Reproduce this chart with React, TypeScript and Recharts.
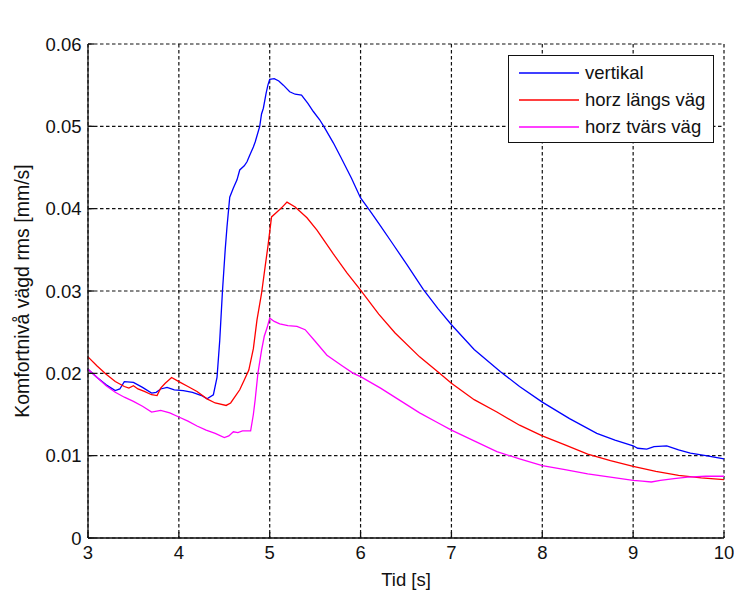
import React from "react";
import {
  LineChart,
  Line,
  XAxis,
  YAxis,
  CartesianGrid,
  Legend,
  Label,
} from "recharts";

const FONT = "'Liberation Sans', Arial, sans-serif";
const INK = "#111";

const xTicks = [3, 4, 5, 6, 7, 8, 9, 10];
const yTicks = [0, 0.01, 0.02, 0.03, 0.04, 0.05, 0.06];

// vertikal
const vertTid = [
  3.0, 3.1, 3.2, 3.3, 3.35, 3.4, 3.5, 3.6, 3.7, 3.75, 3.8, 3.87, 3.95, 4.05,
  4.15, 4.25, 4.31, 4.38, 4.42, 4.45, 4.48, 4.51, 4.53, 4.56, 4.6, 4.64, 4.67,
  4.72, 4.75, 4.78, 4.82, 4.84, 4.89, 4.91, 4.93, 4.96, 4.98, 5.0, 5.05, 5.1,
  5.15, 5.22, 5.28, 5.35, 5.42, 5.48, 5.55, 5.6, 5.7, 5.78, 5.9, 6.0, 6.1,
  6.2, 6.35, 6.51, 6.69, 6.85, 7.0, 7.25, 7.54, 7.75, 8.0, 8.3, 8.6, 8.8, 9.0,
  9.05, 9.15, 9.23, 9.37, 9.5, 9.63, 9.8, 10.0,
];
const vertVarde = [
  0.0205, 0.0195, 0.0186, 0.0179, 0.0181, 0.019, 0.0189, 0.0183, 0.0176,
  0.0177, 0.0181, 0.0183, 0.018, 0.0179, 0.0177, 0.0173, 0.0169, 0.0174,
  0.0195, 0.024, 0.03, 0.035, 0.0378, 0.0414, 0.0425, 0.0435, 0.0447, 0.0452,
  0.0457, 0.0465, 0.0475, 0.0481, 0.05, 0.0515, 0.0522, 0.054, 0.055, 0.0557,
  0.0558, 0.0555, 0.055, 0.0542, 0.0539, 0.0538, 0.0528, 0.0518, 0.0508,
  0.0499, 0.048, 0.0463, 0.0437, 0.0413, 0.0398, 0.0382, 0.0358, 0.0332,
  0.0302, 0.0279, 0.0259, 0.0229, 0.0202, 0.0184, 0.0165, 0.0145, 0.0127,
  0.0119, 0.0112, 0.0109, 0.0108, 0.0111, 0.0112, 0.0107, 0.0103, 0.01, 0.0096,
];

// horz längs väg
const langsTid = [
  3.0, 3.1, 3.2, 3.3, 3.4, 3.45, 3.5, 3.55, 3.62, 3.7, 3.76, 3.8, 3.85, 3.92,
  4.0, 4.1, 4.2, 4.31, 4.4, 4.52, 4.57, 4.62, 4.67, 4.72, 4.77, 4.82, 4.86,
  4.91, 4.95, 4.98, 5.02, 5.08, 5.13, 5.19, 5.28, 5.41, 5.52, 5.7, 5.85, 6.0,
  6.2, 6.38, 6.65, 6.87, 7.0, 7.25, 7.5, 7.75, 8.0, 8.25, 8.5, 8.75, 9.0, 9.25,
  9.5, 9.75, 10.0,
];
const langsVarde = [
  0.022, 0.0209, 0.0199, 0.019, 0.0184, 0.0182, 0.0185, 0.0181, 0.0178,
  0.0174, 0.0173, 0.0182, 0.0188, 0.0195, 0.019, 0.0184, 0.0178, 0.0169,
  0.0164, 0.0161, 0.0164, 0.0172, 0.018, 0.0192, 0.0204, 0.023, 0.0265,
  0.0297, 0.033, 0.0354, 0.039, 0.0396, 0.0401, 0.0408, 0.0402, 0.0389,
  0.0374, 0.0345, 0.0322, 0.0301, 0.0272, 0.0249, 0.022, 0.02, 0.0188, 0.0168,
  0.0153, 0.0137, 0.0124, 0.0113, 0.0102, 0.0094, 0.0087, 0.0081, 0.0076,
  0.0073, 0.0071,
];

// horz tvärs väg
const tvarsTid = [
  3.0, 3.1, 3.2, 3.3, 3.4, 3.5, 3.6, 3.7, 3.8, 3.9, 4.0, 4.1, 4.2, 4.3, 4.4,
  4.5, 4.55, 4.6, 4.65, 4.7, 4.79, 4.82, 4.84, 4.87, 4.91, 4.94, 4.97, 5.0,
  5.05, 5.11, 5.2, 5.3, 5.39, 5.5, 5.63, 5.8, 5.92, 6.0, 6.22, 6.45, 6.65,
  6.85, 7.0, 7.25, 7.5, 7.75, 8.0, 8.25, 8.5, 8.75, 9.0, 9.1, 9.2, 9.3, 9.45,
  9.6, 9.8, 10.0,
];
const tvarsVarde = [
  0.0205, 0.0195, 0.0185, 0.0177, 0.0171, 0.0166, 0.016, 0.0153, 0.0155,
  0.0152, 0.0147, 0.0142, 0.0136, 0.0131, 0.0127, 0.0122, 0.0124, 0.0129,
  0.0128, 0.013, 0.013, 0.015, 0.0168, 0.02, 0.0228, 0.0245, 0.0255, 0.0267,
  0.0263, 0.026, 0.0258, 0.0257, 0.0253, 0.0239, 0.0222, 0.0209, 0.02, 0.0196,
  0.0182, 0.0166, 0.0152, 0.014, 0.0131, 0.0118, 0.0105, 0.0096, 0.0088,
  0.0083, 0.0078, 0.0074, 0.007, 0.0069, 0.0068, 0.007, 0.0072, 0.0074,
  0.0075, 0.0075,
];

const series = [
  { name: "vertikal", color: "#0000ff", tid: vertTid, varde: vertVarde },
  { name: "horz längs väg", color: "#ff0000", tid: langsTid, varde: langsVarde },
  { name: "horz tvärs väg", color: "#ff00ff", tid: tvarsTid, varde: tvarsVarde },
];

const toPoints = (tid: number[], varde: number[]) =>
  tid.map((t, i) => ({ t, v: varde[i] }));

const tickStyle = { fontSize: 18.5, fill: INK, fontFamily: FONT };

function LegendBox() {
  return (
    <div
      style={{
        width: 206,
        height: 88,
        border: `1.5px solid ${INK}`,
        background: "#fff",
        boxSizing: "border-box",
        fontFamily: FONT,
        fontSize: 18.5,
        color: INK,
        paddingTop: 4,
      }}
    >
      {series.map((s) => (
        <div
          key={s.name}
          style={{ display: "flex", alignItems: "center", height: 26.8 }}
        >
          <svg width={76} height={10} style={{ flex: "none" }}>
            <line x1={10} x2={70} y1={5} y2={5} stroke={s.color} strokeWidth={1.5} />
          </svg>
          <span style={{ lineHeight: "20px" }}>{s.name}</span>
        </div>
      ))}
    </div>
  );
}

export default function App() {
  return (
    <div style={{ position: "absolute", left: 0, top: 0, background: "#fff" }}>
      <LineChart
        width={734}
        height={590}
        margin={{ top: 44, right: 10, bottom: 0, left: 0 }}
      >
        <CartesianGrid stroke={INK} strokeDasharray="3.5 2.5" strokeWidth={1.2} />
        <XAxis
          dataKey="t"
          type="number"
          domain={[3, 10]}
          ticks={xTicks}
          height={52}
          tick={tickStyle}
          tickSize={-6}
          tickMargin={14}
          stroke={INK}
          strokeWidth={1.3}
          allowDuplicatedCategory={false}
        >
          <Label
            value="Tid [s]"
            position="insideBottom"
            offset={4}
            style={{ fontSize: 18.5, fill: INK, fontFamily: FONT }}
          />
        </XAxis>
        <XAxis
          xAxisId="top"
          orientation="top"
          dataKey="t"
          type="number"
          domain={[3, 10]}
          ticks={xTicks}
          height={0}
          tick={false}
          tickSize={-6}
          stroke={INK}
          strokeWidth={1.3}
        >
          <Label
            value="Grundläggningsnivå - test med farthinder"
            position="top"
            offset={15}
            style={{ fontSize: 18.5, fill: INK, fontFamily: FONT }}
          />
        </XAxis>
        <YAxis
          type="number"
          domain={[0, 0.06]}
          ticks={yTicks}
          width={88}
          tick={tickStyle}
          tickSize={-6}
          tickMargin={12.5}
          tickFormatter={(v: number) => (v === 0 ? "0" : v.toFixed(2))}
          stroke={INK}
          strokeWidth={1.3}
        >
          <Label
            value="Komfortnivå vägd rms [mm/s]"
            angle={-90}
            position="insideLeft"
            offset={22}
            style={{ fontSize: 19.5, fill: INK, fontFamily: FONT, textAnchor: "middle" }}
          />
        </YAxis>
        <YAxis
          yAxisId="right"
          orientation="right"
          type="number"
          domain={[0, 0.06]}
          ticks={yTicks}
          width={0}
          tick={false}
          tickSize={-6}
          stroke={INK}
          strokeWidth={1.3}
        />
        {series.map((s) => (
          <Line
            key={s.name}
            name={s.name}
            data={toPoints(s.tid, s.varde)}
            dataKey="v"
            type="linear"
            stroke={s.color}
            strokeWidth={1.3}
            dot={false}
            activeDot={false}
            isAnimationActive={false}
          />
        ))}
        <Legend
          layout="horizontal"
          verticalAlign="middle"
          align="center"
          content={() => <LegendBox />}
          wrapperStyle={{ left: 508, top: 55, width: 206, height: 88 }}
        />
      </LineChart>
    </div>
  );
}
